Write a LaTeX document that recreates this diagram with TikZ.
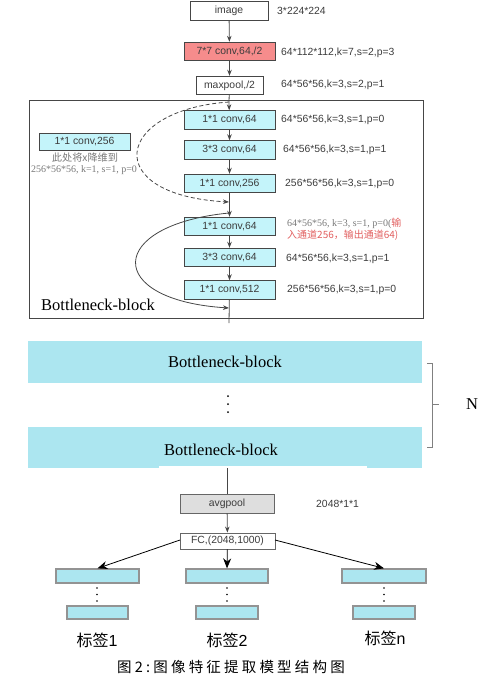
\documentclass[tikz,border=0pt]{standalone}
\usepackage{fontspec}
\setmainfont{Liberation Serif}
\setsansfont{Liberation Sans}
\newfontfamily\cjk{Noto Sans CJK SC}
\newfontfamily\cjkwide[LetterSpace=22]{Noto Sans CJK SC}
\usetikzlibrary{arrows.meta,decorations.pathreplacing}
\definecolor{boxcy}{RGB}{196,244,250}
\definecolor{blockcy}{RGB}{172,230,240}
\definecolor{convred}{RGB}{246,140,140}
\definecolor{bdr}{RGB}{70,70,70}
\definecolor{lblgray}{RGB}{60,60,60}
\definecolor{notegray}{RGB}{120,120,120}
\definecolor{notered}{RGB}{225,95,95}
\definecolor{avggray}{RGB}{222,222,222}
\begin{document}
\begin{tikzpicture}[x=1pt,y=-1pt,
  lay/.style={draw=bdr,line width=0.9pt,minimum width=91pt,minimum height=18.5pt,inner sep=0pt,font=\sffamily\fontsize{10.4}{12}\selectfont,text=lblgray},
  cyb/.style={lay,fill=boxcy},
  lbl/.style={anchor=west,font=\sffamily\fontsize{10.4}{12}\selectfont,text=lblgray,inner sep=0pt},
  arr/.style={-{Stealth[length=6pt,width=4.5pt]},draw=bdr,line width=0.8pt},
  ln/.style={draw=bdr,line width=0.8pt},
  outb/.style={draw=gray!85,line width=1.3pt,fill=blockcy,inner sep=0pt,minimum height=14pt},
  blk/.style={fill=blockcy,inner sep=0pt,minimum width=394pt,font=\fontsize{16.5}{18}\selectfont},
  dotn/.style={circle,fill=black,inner sep=0pt,minimum size=2pt}]
\useasboundingbox (0,0) rectangle (486,681);
% top chain
\node[lay,minimum width=78pt] (img) at (229,11) {image};
\node[lbl] (limg) at (277,11) {3*224*224};
\node[lay,fill=convred] (c7) at (229.5,51.5) {7*7 conv,64,/2};
\node[lbl] (lc7) at (281,53) {64*112*112,k=7,s=2,p=3};
\node[lay,minimum width=67pt] (mp) at (229.5,85.5) {maxpool,/2};
\node[lbl] (lmp) at (281,85) {64*56*56,k=3,s=2,p=1};
\draw[arr] (img) -- (c7);
\draw[arr] (c7) -- (mp);
% frame
\node[draw=bdr,line width=0.9pt,minimum width=394pt,minimum height=218pt,inner sep=0pt] (frame) at (226,209) {};
% first bottleneck group
\node[cyb] (c1) at (229.5,120) {1*1 conv,64};
\node[lbl] (lc1) at (281,120) {64*56*56,k=3,s=1,p=0};
\node[cyb] (c2) at (229.5,150) {3*3 conv,64};
\node[lbl] (lc2) at (283,150) {64*56*56,k=3,s=1,p=1};
\node[cyb] (c3) at (229.5,183.5) {1*1 conv,256};
\node[lbl] (lc3) at (285,184) {256*56*56,k=3,s=1,p=0};
\node[cyb,minimum height=17pt] (lb) at (84.5,141.5) {1*1 conv,256};
\node[font=\cjk\fontsize{10.2}{11}\selectfont,text=notegray,inner sep=0pt] (nt1) at (85,157.5) {此处将x降维到};
\node[font=\fontsize{10}{11}\selectfont,text=notegray,inner sep=0pt] (nt2) at (84,170.5) {256*56*56, k=1, s=1, p=0};
\coordinate (top1) at (229,102);
\coordinate (mid1) at (229,202);
\draw[ln] (mp) -- (top1);
\draw[arr] (top1) -- (c1);
\draw[arr] (c1) -- (c2);
\draw[arr] (c2) -- (c3);
\draw[arr,dashed,dash pattern=on 4pt off 2.5pt] (top1) .. controls (114,110) and (100,195) .. (mid1);
% second group
\node[cyb] (c4) at (229.5,226.5) {1*1 conv,64};
\draw[arr] (c3) -- (c4);
\node[lbl,font=\fontsize{10}{12}\selectfont,align=left,anchor=north west] (lc4) at (287,217.5) {\textcolor{notegray}{64*56*56, k=3, s=1, p=0(}\textcolor{notered}{\cjk 输}\\\textcolor{notered}{\cjk 入通道256，输出通道64)}};
\node[cyb] (c5) at (229.5,257.5) {3*3 conv,64};
\node[lbl] (lc5) at (286,259) {64*56*56,k=3,s=1,p=1};
\node[cyb] (c6) at (229.5,290) {1*1 conv,512};
\node[lbl] (lc6) at (287,290) {256*56*56,k=3,s=1,p=0};
\draw[arr] (c4) -- (c5);
\draw[arr] (c5) -- (c6);
\coordinate (top2) at (229,213);
\coordinate (end2) at (229,308);
\coordinate (bot2) at (229,323);
\draw[arr] (top2) .. controls (106,225) and (104,300) .. (end2);
\draw[ln] (c6) -- (bot2);
\node[anchor=west,font=\fontsize{16.5}{18}\selectfont,inner sep=0pt] (bbl) at (41,305) {Bottleneck-block};
% repeated blocks
\node[blk,minimum height=42pt] (b1) at (225,362) {Bottleneck-block};
\node[dotn] (d1) at (228,396) {};
\node[dotn] (d2) at (228,404) {};
\node[dotn] (d3) at (228,412) {};
\node[blk,minimum height=41pt] (b2) at (225,447.5) {};
\fill[white] (159,466) rectangle (367,468.5);
\node[font=\fontsize{16.5}{18}\selectfont,inner sep=0pt] (b2t) at (221,450) {Bottleneck-block};
\draw[draw=gray,line width=1pt] (427,363) -- (432,363) -- (432,447) -- (427,447);
\draw[draw=gray,line width=1pt] (432,404) -- (439,404);
\node[font=\fontsize{16.5}{18}\selectfont,inner sep=0pt] (nn) at (472,404) {N};
% tail
\node[lay,fill=avggray,draw=gray!80!black,minimum width=94pt,minimum height=19pt] (avg) at (227,503.5) {avgpool};
\node[lbl] (lavg) at (316,504) {2048*1*1};
\node[lay,fill=white,draw=gray!80!black,minimum width=95pt,minimum height=16pt] (fc) at (227.5,541) {FC,(2048,1000)};
\draw[ln] (b2.south -| avg.north) -- (avg);
\draw[arr] (avg) -- (fc);
% outputs
\node[outb,minimum width=83pt] (o1a) at (97.5,576) {};
\node[outb,minimum width=61pt,minimum height=13pt] (o1b) at (97.5,612.5) {};
\node[outb,minimum width=82pt] (o2a) at (227,576) {};
\node[outb,minimum width=62pt,minimum height=13pt] (o2b) at (227,612.5) {};
\node[outb,minimum width=84pt] (o3a) at (384,576) {};
\node[outb,minimum width=62pt,minimum height=13pt] (o3b) at (384,612.5) {};
\foreach \xx/\nm in {97/p,227/q,384/r}{
  \node[circle,fill=black,inner sep=0pt,minimum size=1.6pt] (\nm1) at (\xx,588) {};
  \node[circle,fill=black,inner sep=0pt,minimum size=1.6pt] (\nm2) at (\xx,594.5) {};
  \node[circle,fill=black,inner sep=0pt,minimum size=1.6pt] (\nm3) at (\xx,601) {};
}
\coordinate (fcl) at (180,540);
\coordinate (fcr) at (275,540);
\draw[-{Stealth[length=10pt,width=8pt]},line width=0.8pt] (fcl) -- (o1a.north);
\draw[-{Stealth[length=10pt,width=8pt]},line width=0.8pt] (fc) -- (o2a.north);
\draw[-{Stealth[length=10pt,width=8pt]},line width=0.8pt] (fcr) -- (o3a.north);
\node[font=\fontsize{16}{18}\selectfont,inner sep=0pt] (t1) at (97,640) {{\cjk 标签}\sffamily 1};
\node[font=\fontsize{16}{18}\selectfont,inner sep=0pt] (t2) at (227,640) {{\cjk 标签}\sffamily 2};
\node[font=\fontsize{16}{18}\selectfont,inner sep=0pt] (t3) at (385,638) {{\cjk 标签}\sffamily n};
\node[font=\cjkwide\fontsize{14.5}{16}\selectfont,inner sep=0pt] (cap) at (231,667) {图2:图像特征提取模型结构图};
\end{tikzpicture}
\end{document}
